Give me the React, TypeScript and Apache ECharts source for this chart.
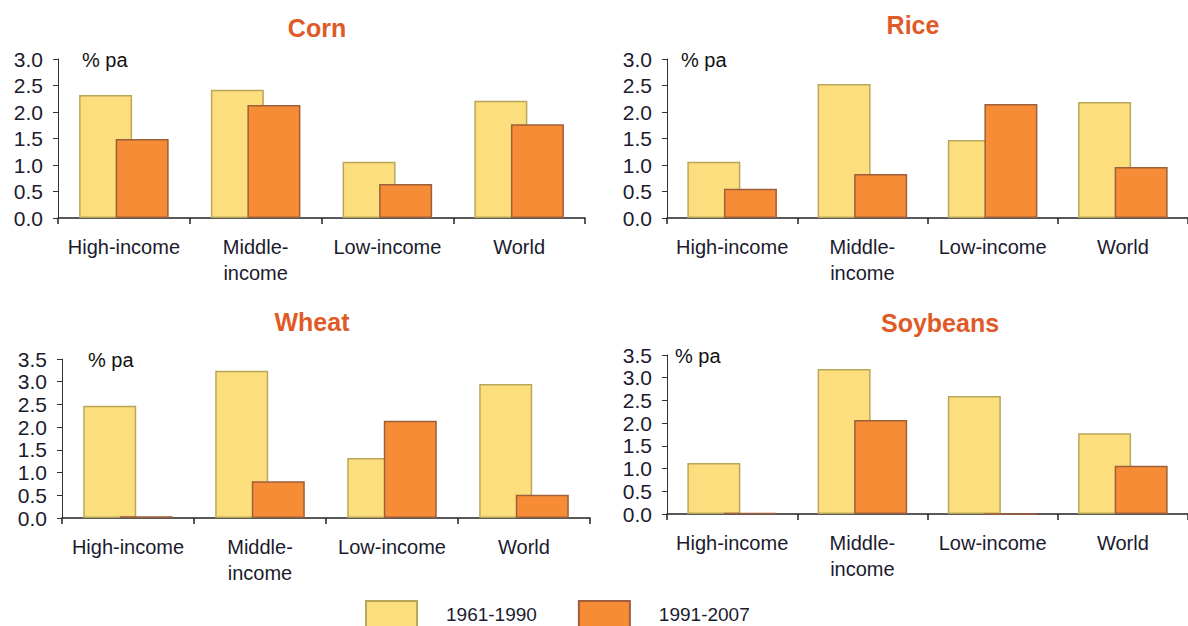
import React, { useEffect, useRef } from "react";
import * as echarts from "echarts";

const categories = ["High-income", "Middle-\nincome", "Low-income", "World"];
const periods = ["1961-1990", "1991-2007"];
const cropNames = ["Corn", "Rice", "Wheat", "Soybeans"];
const unitLabel = "% pa";

const cornEarly = [2.32, 2.42, 1.06, 2.21];
const cornLate = [1.49, 2.13, 0.64, 1.77];
const riceEarly = [1.06, 2.53, 1.47, 2.19];
const riceLate = [0.55, 0.83, 2.15, 0.96];
const wheatEarly = [2.47, 3.24, 1.32, 2.95];
const wheatLate = [0.04, 0.81, 2.14, 0.51];
const soyEarly = [1.12, 3.19, 2.6, 1.78];
const soyLate = [0.02, 2.07, 0, 1.06];

const yMax = [3.0, 3.0, 3.5, 3.5];
const yInterval = 0.5;

const earlyData = [cornEarly, riceEarly, wheatEarly, soyEarly];
const lateData = [cornLate, riceLate, wheatLate, soyLate];

// layout (pixels)
const grids = [
  { left: 58, top: 59, width: 527, height: 159 },
  { left: 667, top: 59, width: 528, height: 159 },
  { left: 62, top: 359, width: 528, height: 159 },
  { left: 667, top: 355, width: 528, height: 159 },
];
const titlePos = [
  { x: 317, y: 28 },
  { x: 913, y: 25 },
  { x: 312, y: 322 },
  { x: 940, y: 323 },
];
const unitPos = [
  { x: 82, y: 60 },
  { x: 681, y: 60 },
  { x: 88, y: 360 },
  { x: 675, y: 356 },
];

const YELLOW = "#FDDE7C";
const YELLOW_BORDER = "#B8A75A";
const ORANGE = "#F68C35";
const ORANGE_BORDER = "#9E5F3C";
const TEXT = "#1b1b2e";
const FONT = "'Liberation Sans', Arial, sans-serif";

export default function App() {
  const ref = useRef<HTMLDivElement>(null);
  useEffect(() => {
    if (!ref.current) return;
    const chart = echarts.init(ref.current, undefined, { renderer: "svg" });

    const xAxis: any[] = [];
    const yAxis: any[] = [];
    const series: any[] = [];
    const graphic: any[] = [];

    for (let i = 0; i < 4; i++) {
      xAxis.push({
        type: "category",
        gridIndex: i,
        data: categories,
        axisLine: { lineStyle: { color: "#222", width: 1.5 } },
        axisTick: { show: true, length: 6, lineStyle: { color: "#222", width: 1.5 } },
        axisLabel: {
          color: TEXT,
          fontFamily: FONT,
          fontSize: 20,
          lineHeight: 26,
          margin: 16,
          interval: 0,
        },
      });
      yAxis.push({
        type: "value",
        gridIndex: i,
        min: 0,
        max: yMax[i],
        interval: yInterval,
        splitLine: { show: false },
        axisLine: { show: true, lineStyle: { color: "#333", width: 1 } },
        axisTick: { show: true, length: 5, lineStyle: { color: "#333" } },
        axisLabel: {
          color: TEXT,
          fontFamily: FONT,
          fontSize: 21,
          margin: 15,
          formatter: (v: number) => v.toFixed(1),
        },
      });
      series.push({
        name: periods[0],
        type: "bar",
        xAxisIndex: i,
        yAxisIndex: i,
        data: earlyData[i],
        barWidth: 53,
        barGap: "-31%",
        itemStyle: { color: YELLOW, borderColor: YELLOW_BORDER, borderWidth: 1.5 },
      });
      series.push({
        name: periods[1],
        type: "bar",
        xAxisIndex: i,
        yAxisIndex: i,
        data: lateData[i],
        barWidth: 53,
        barGap: "-31%",
        itemStyle: { color: ORANGE, borderColor: ORANGE_BORDER, borderWidth: 1.5 },
      });
      graphic.push({
        type: "text",
        x: titlePos[i].x,
        y: titlePos[i].y,
        style: {
          text: cropNames[i],
          fill: "#E05A28",
          font: `bold 25px ${FONT}`,
          align: "center",
          verticalAlign: "middle",
        },
      });
      graphic.push({
        type: "text",
        x: unitPos[i].x,
        y: unitPos[i].y,
        style: {
          text: unitLabel,
          fill: "#111",
          font: `20px ${FONT}`,
          align: "left",
          verticalAlign: "middle",
        },
      });
    }

    chart.setOption({
      animation: false,
      grid: grids.map((g) => ({ ...g, containLabel: false })),
      xAxis,
      yAxis,
      series,
      graphic,
      legend: {
        data: periods,
        left: 365,
        top: 600,
        padding: 0,
        itemWidth: 51,
        itemHeight: 26,
        itemGap: 41,
        icon: "rect",
        textStyle: {
          color: TEXT,
          fontFamily: FONT,
          fontSize: 19,
          padding: [0, 0, 0, 24],
        },
      },
    });

    return () => chart.dispose();
  }, []);

  return (
    <div
      ref={ref}
      style={{ position: "fixed", left: 0, top: 0, width: 1188, height: 626, background: "#fff" }}
    />
  );
}
